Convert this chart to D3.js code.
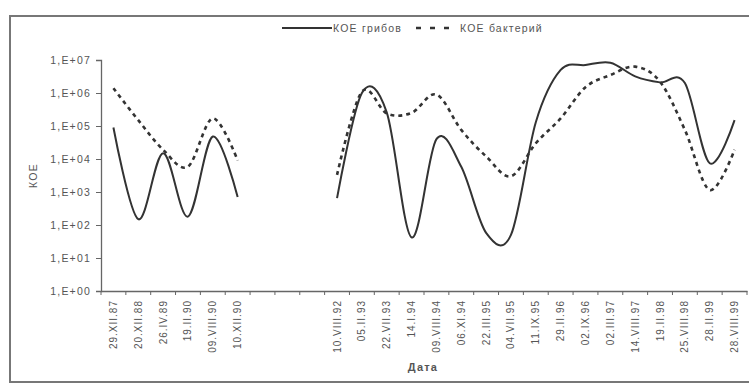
<!DOCTYPE html>
<html>
<head>
<meta charset="utf-8">
<script src="https://cdn.jsdelivr.net/npm/d3@7"></script>
<style>
  html, body { margin: 0; padding: 0; background: #fff; }
  svg { display: block; font-family: "Liberation Sans", Arial, sans-serif; }
</style>
</head>
<body>
<svg id="chart" width="749" height="385"></svg>
<script>
// Sampling dates (empty slots = gap between the two observation periods)
const categories = [
  "29.XII.87", "20.XII.88", "26.IV.89", "19.II.90", "09.VIII.90", "10.XII.90",
  "", "", "",
  "10.VIII.92", "05.II.93", "22.VII.93", "14.I.94", "09.VIII.94", "06.XI.94",
  "22.III.95", "04.VII.95", "11.IX.95", "29.II.96", "02.IX.96", "02.III.97",
  "14.VIII.97", "19.II.98", "25.VIII.98", "28.II.99", "28.VIII.99"
];

// КОЕ грибов (fungi)
const fungi = [
  9e4, 150, 1.5e4, 180, 4.8e4, 700,
  null, null, null,
  650, 1.0e6, 2.6e5, 42, 4.0e4, 5.8e3,
  58, 50, 1.3e5, 5.0e6, 7.0e6, 8.3e6,
  3.2e6, 2.1e6, 2.0e6, 7.4e3, 1.5e5
];

// КОЕ бактерий (bacteria)
const bacteria = [
  1.4e6, 1.5e5, 1.9e4, 5.9e3, 1.7e5, 9.0e3,
  null, null, null,
  3.3e3, 1.1e6, 2.4e5, 2.5e5, 9.0e5, 7.6e4,
  1.2e4, 3.0e3, 3.0e4, 1.7e5, 1.5e6, 3.5e6,
  6.3e6, 2.2e6, 7.6e4, 1.15e3, 1.9e4
];

const yTicks = [1, 1e1, 1e2, 1e3, 1e4, 1e5, 1e6, 1e7];
const seriesNames = ["КОЕ грибов", "КОЕ бактерий"];

const svg = d3.select("#chart");
const ink = "#333";
const textCol = "#555";
const fontSize = "10.5px";
const spacing = "1.2px";

// outer chart frame
svg.append("rect")
  .attr("x", 10).attr("y", 16)
  .attr("width", 760).attr("height", 366)
  .attr("fill", "#fff")
  .attr("stroke", "#777").attr("stroke-width", 2);

const plot = { left: 101, right: 747, top: 60, bottom: 291 };

const x = d3.scaleBand()
  .domain(d3.range(categories.length))
  .range([plot.left, plot.right])
  .padding(0);

const y = d3.scaleLog()
  .domain([1, 1e7])
  .range([plot.bottom, plot.top]);

const fmt = v => "1,E+" + String(Math.round(Math.log10(v))).padStart(2, "0");

// Y axis
const yAxis = svg.append("g")
  .attr("transform", `translate(${plot.left},0)`)
  .call(d3.axisLeft(y).tickValues(yTicks).tickFormat(fmt).tickSize(5).tickPadding(5));
yAxis.select(".domain").attr("stroke", "#666").attr("stroke-width", 1.3);
yAxis.selectAll(".tick line").attr("stroke", "#666");
yAxis.selectAll("text")
  .attr("fill", textCol)
  .style("font-size", fontSize)
  .style("letter-spacing", spacing);

// X axis: labels centred in categories, tick marks between categories
const xAxis = svg.append("g")
  .attr("transform", `translate(0,${plot.bottom})`)
  .call(d3.axisBottom(x).tickFormat(i => categories[i]).tickSize(0).tickPadding(0));
xAxis.select(".domain").attr("stroke", "#666").attr("stroke-width", 1.3);
xAxis.selectAll("text")
  .attr("fill", textCol)
  .style("font-size", "10px")
  .style("letter-spacing", "1px")
  .attr("text-anchor", "end")
  .attr("dy", "0.35em")
  .attr("transform", "translate(0,9) rotate(-90)");

const boundaries = d3.range(categories.length + 1)
  .map(i => i < categories.length ? x(i) : x(categories.length - 1) + x.bandwidth());
xAxis.selectAll(".between")
  .data(boundaries)
  .join("line")
  .attr("class", "between")
  .attr("x1", d => d).attr("x2", d => d)
  .attr("y1", 0).attr("y2", 4)
  .attr("stroke", "#666");

// Axis titles
svg.append("text")
  .attr("transform", `translate(37,${(plot.top + plot.bottom) / 2}) rotate(-90)`)
  .attr("text-anchor", "middle")
  .attr("fill", textCol)
  .style("font-size", fontSize)
  .style("letter-spacing", spacing)
  .text("КОЕ");

svg.append("text")
  .attr("x", 423).attr("y", 371)
  .attr("text-anchor", "middle")
  .attr("fill", textCol)
  .style("font-size", "11px")
  .style("letter-spacing", spacing)
  .style("font-weight", "bold")
  .text("Дата");

// Series lines
const line = d3.line()
  .defined(d => d != null)
  .x((d, i) => x(i) + x.bandwidth() / 2)
  .y(d => y(d))
  .curve(d3.curveCardinal.tension(0));

svg.append("path")
  .datum(bacteria)
  .attr("fill", "none")
  .attr("stroke", ink)
  .attr("stroke-width", 2.6)
  .attr("stroke-dasharray", "4,4")
  .attr("d", line);

svg.append("path")
  .datum(fungi)
  .attr("fill", "none")
  .attr("stroke", ink)
  .attr("stroke-width", 2)
  .attr("d", line);

// Legend
const lg = svg.append("g").attr("transform", "translate(282,28)");
lg.append("line")
  .attr("x1", 0).attr("x2", 50).attr("y1", 0).attr("y2", 0)
  .attr("stroke", ink).attr("stroke-width", 2);
lg.append("text")
  .attr("x", 51).attr("y", 0).attr("dy", "0.35em")
  .attr("fill", textCol).style("font-size", fontSize)
  .style("letter-spacing", spacing)
  .text(seriesNames[0]);
lg.append("line")
  .attr("x1", 134).attr("x2", 174).attr("y1", 0).attr("y2", 0)
  .attr("stroke", ink).attr("stroke-width", 2.6)
  .attr("stroke-dasharray", "5,9");
lg.append("text")
  .attr("x", 178).attr("y", 0).attr("dy", "0.35em")
  .attr("fill", textCol).style("font-size", fontSize)
  .style("letter-spacing", spacing)
  .text(seriesNames[1]);
</script>
</body>
</html>
